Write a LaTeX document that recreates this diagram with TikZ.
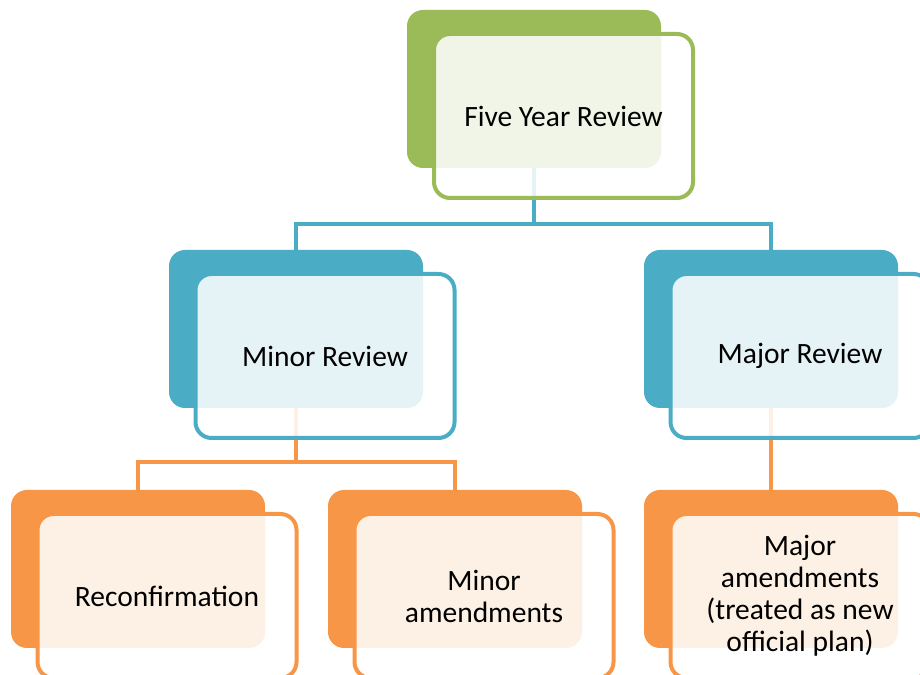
\documentclass[tikz,border=0pt]{standalone}
\usepackage{fontspec}
\setmainfont{Carlito}
\definecolor{leafgreen}{HTML}{9BBB59}
\definecolor{seablue}{HTML}{4BACC6}
\definecolor{tangerine}{HTML}{F79646}

\tikzset{
  back/.style={fill=#1,draw=none,rounded corners=16bp,minimum width=254bp,minimum height=158bp,inner sep=0pt},
  front/.style={draw=#1,line width=4bp,fill=white,fill opacity=0.86,text opacity=1,rounded corners=16bp,
    minimum width=259bp,minimum height=164bp,inner sep=0pt,align=center,font=\fontsize{29.5bp}{32bp}\selectfont},
  link/.style={draw=#1,line width=4bp},
}

\begin{document}
\begin{tikzpicture}
\useasboundingbox (0bp,0bp) rectangle (920bp,675bp);
\clip (0bp,0bp) rectangle (920bp,675bp);
%% solid tabs behind each box
\node (five) at (534bp,586bp) [back=leafgreen] {};
\node (minor) at (296bp,346bp) [back=seablue] {};
\node (major) at (771bp,346bp) [back=seablue] {};
\node (reconf) at (138bp,106bp) [back=tangerine] {};
\node (minoramend) at (455bp,106bp) [back=tangerine] {};
\node (majoramend) at (771bp,106bp) [back=tangerine] {};
%% tree lines
\coordinate (bus1) at (534bp,451bp);
\coordinate (bus2) at (296bp,213bp);
\draw [link=seablue] (five.south) -- (bus1) -| (minor.north);
\draw [link=seablue] (bus1) -| (major.north);
\draw [link=tangerine] (minor.south) -- (bus2) -| (reconf.north);
\draw [link=tangerine] (bus2) -| (minoramend.north);
\draw [link=tangerine] (major.south) -- (majoramend.north);
%% outlined boxes with the labels
\node (fiveface) at (563.5bp,559bp) [front=leafgreen] {Five Year Review};
\node (minorface) at (325bp,319bp) [front=seablue] {Minor Review};
\node (majorface) at (800bp,319bp) [front=seablue] {Major Review};
\node (reconfface) at (167bp,79bp) [front=tangerine] {Reconfirmation};
\node (minoramendface) at (484bp,79bp) [front=tangerine] {Minor\\amendments};
\node (majoramendface) at (800bp,79bp) [front=tangerine] {Major\\amendments\\(treated as new\\official plan)};
%
\end{tikzpicture}
\end{document}
